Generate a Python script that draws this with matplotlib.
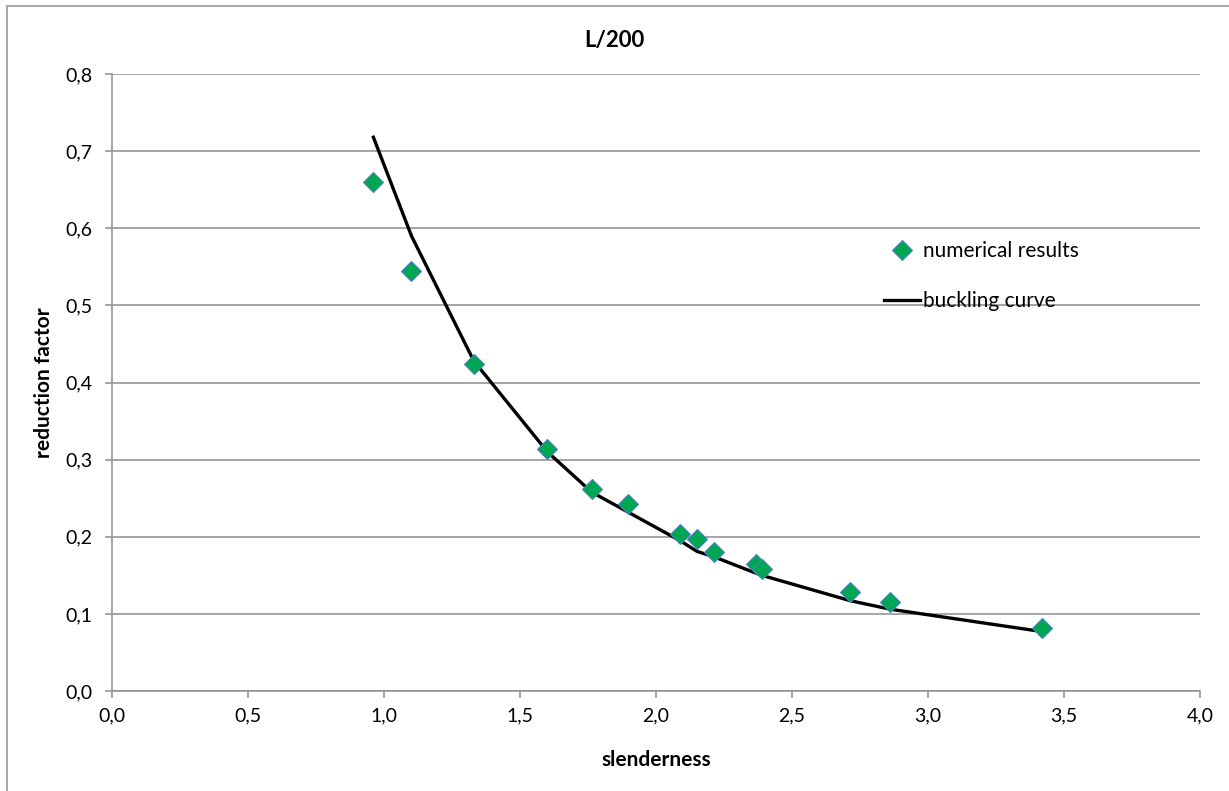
import matplotlib.pyplot as plt
from matplotlib.patches import Rectangle
from matplotlib.ticker import FuncFormatter

plt.rcParams['font.family'] = ['Lato', 'DejaVu Sans']

# numerical results (slenderness, reduction factor)
num_x = [0.961, 1.101, 1.330, 1.601, 1.763, 1.897, 2.088, 2.151, 2.213, 2.366, 2.389, 2.715, 2.862, 3.420]
num_y = [0.660, 0.545, 0.424, 0.314, 0.262, 0.242, 0.204, 0.197, 0.180, 0.165, 0.158, 0.128, 0.116, 0.082]

# buckling curve
curve_x = [0.961, 1.101, 1.330, 1.601, 1.763, 1.897, 2.088, 2.151, 2.213, 2.366, 2.389, 2.715, 2.862, 3.420]
curve_y = [0.718, 0.590, 0.428, 0.310, 0.258, 0.232, 0.195, 0.181, 0.174, 0.153, 0.150, 0.117, 0.106, 0.077]

x_ticks = [0.0, 0.5, 1.0, 1.5, 2.0, 2.5, 3.0, 3.5, 4.0]
y_ticks = [0.0, 0.1, 0.2, 0.3, 0.4, 0.5, 0.6, 0.7, 0.8]

grey = '#969696'

fig = plt.figure(figsize=(12.29, 7.91), dpi=100)
ax = fig.add_axes([112 / 1229, 1 - 691 / 791, 1088 / 1229, 617 / 791])

# chart area border
fig.patches.append(Rectangle((7 / 1229, -0.1), 1.2, 1 - 6 / 791 + 0.1, transform=fig.transFigure,
                             fill=False, edgecolor='#a0a0a0', linewidth=1.3))

ax.plot(curve_x, curve_y, color='black', linewidth=2.4, label='buckling curve', zorder=3)
ax.plot(num_x, num_y, linestyle='none', marker='D', markersize=10, markerfacecolor='#00a651',
        markeredgecolor='#4f81bd', markeredgewidth=0.8, label='numerical results', zorder=4)

ax.set_xlim(0, 4.0)
ax.set_ylim(0, 0.8)
ax.set_xticks(x_ticks)
ax.set_yticks(y_ticks)
comma = FuncFormatter(lambda v, p: f'{v:.1f}'.replace('.', ','))
ax.xaxis.set_major_formatter(comma)
ax.yaxis.set_major_formatter(comma)
ax.tick_params(axis='both', direction='out', length=5, color=grey, width=1.2, labelsize=14)
ax.tick_params(axis='x', pad=7)
ax.tick_params(axis='y', pad=9)
ax.grid(axis='y', color=grey, linewidth=1.2)
ax.set_axisbelow(True)
for side in ['top', 'right']:
    ax.spines[side].set_visible(False)
for side in ['left', 'bottom']:
    ax.spines[side].set_color(grey)
    ax.spines[side].set_linewidth(1.2)

fig.text(614 / 1229, 1 - 40 / 791, 'L/200', ha='center', va='center', fontsize=16, fontweight='bold')
ax.set_xlabel('slenderness', fontsize=15, fontweight='bold', labelpad=18)
ax.set_ylabel('reduction factor', fontsize=15, fontweight='bold', labelpad=8)

handles, labels = ax.get_legend_handles_labels()
ax.legend(handles[::-1], labels[::-1], loc='upper left', bbox_to_anchor=(0.692, 0.76), frameon=False,
          fontsize=15, labelspacing=1.45, handlelength=1.75, handletextpad=0.15)

fig.savefig('out.png', dpi=100)
